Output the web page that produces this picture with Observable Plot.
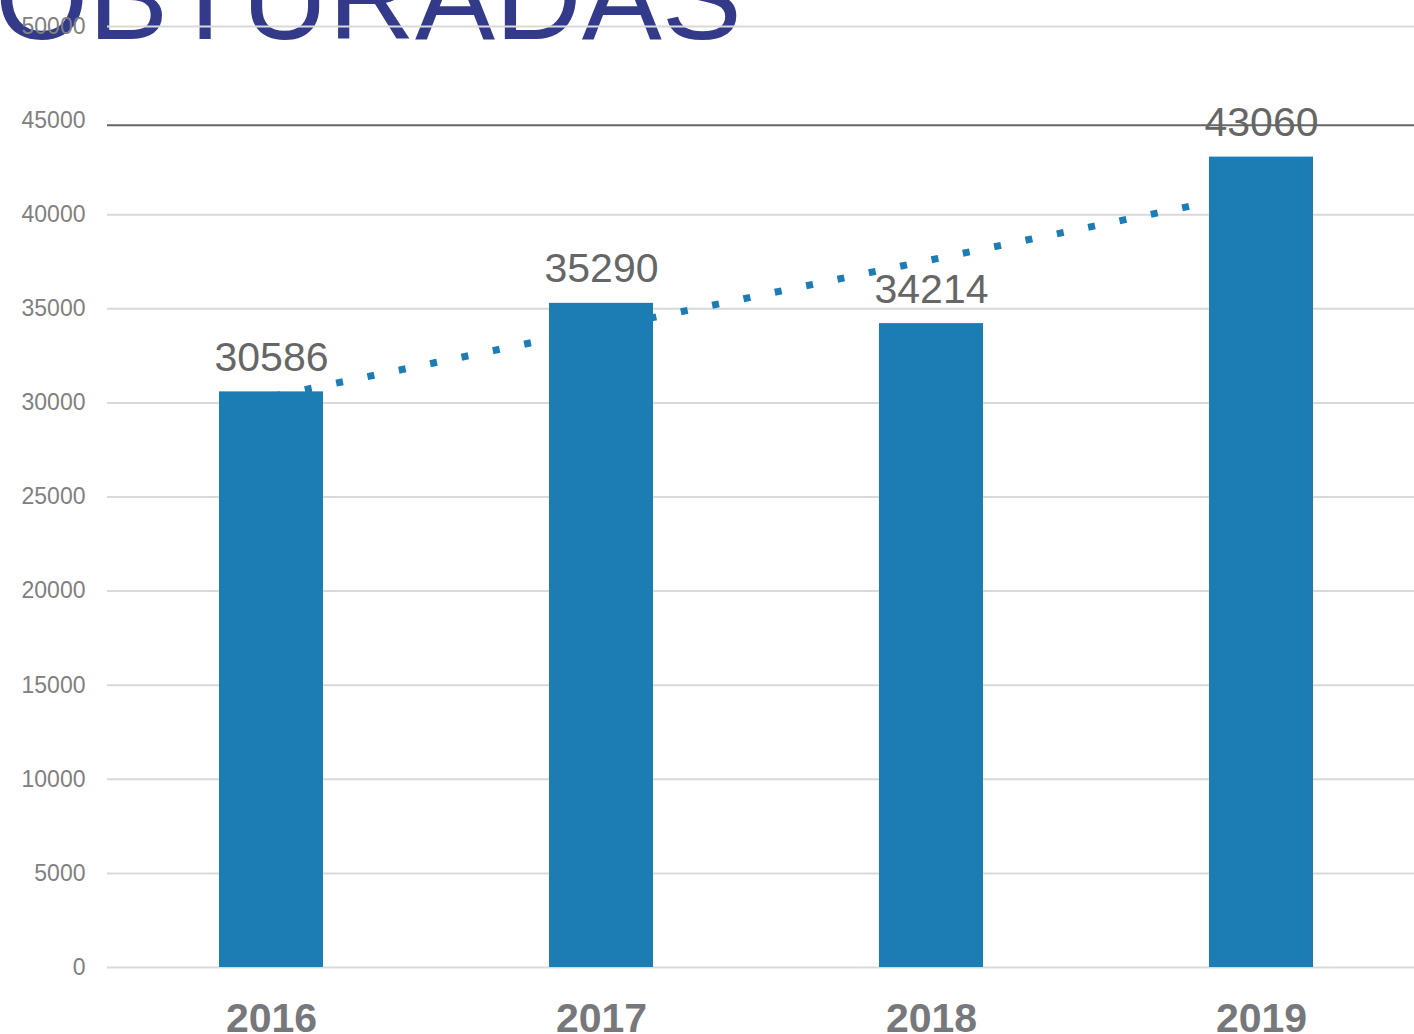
<!DOCTYPE html>
<html><head><meta charset="utf-8">
<script src="https://cdn.jsdelivr.net/npm/d3@7"></script>
<script src="https://cdn.jsdelivr.net/npm/@observablehq/plot@0.6"></script>
<style>
html,body{margin:0;padding:0;background:#fff;overflow:hidden}
#wrap{position:relative;width:1414px;height:1034px;font-family:"Liberation Sans",Arial,sans-serif;overflow:hidden}
#title{position:absolute;left:-5px;top:-63px;font-size:120px;line-height:1;color:#343A8A;z-index:0;white-space:nowrap}
#chart{position:absolute;left:0;top:0;z-index:1}
</style></head>
<body>
<div id="wrap"><div id="title">OBTURADAS</div><div id="chart"></div></div>
<script>
const years = ["2016", "2017", "2018", "2019"];
const values = [30586, 35290, 34214, 43060];
const yTicks = [0, 5000, 10000, 15000, 20000, 25000, 30000, 35000, 40000, 45000, 50000];
const gridTicks = [0, 5000, 10000, 15000, 20000, 25000, 30000, 35000, 40000, 50000];
const divider = [44750];
const barColor = "#1B7DB4";

const data = years.map((year, i) => ({year, value: values[i]}));

// linear trend (least squares) over the category index
const n = values.length;
const mx = (n - 1) / 2;
const my = d3.mean(values);
const slope = d3.sum(values, (v, i) => (i - mx) * (v - my)) / d3.sum(values, (v, i) => (i - mx) ** 2);
const intercept = my - slope * mx;
const trend = [
  {year: years[0], value: intercept},
  {year: years[n - 1], value: intercept + slope * (n - 1)}
];

const chart = Plot.plot({
  width: 1414, height: 1034,
  marginTop: 26, marginBottom: 67, marginLeft: 107, marginRight: 0,
  style: {background: "transparent", fontFamily: "Liberation Sans, Arial, sans-serif", overflow: "visible"},
  x: {domain: years, range: [106, 1426], paddingInner: 0.685, paddingOuter: 0.3425, label: null},
  y: {domain: [0, 50000], label: null},
  marks: [
    Plot.gridY(gridTicks, {stroke: "#d9d9d9", strokeOpacity: 1, strokeWidth: 2}),
    Plot.axisY(yTicks, {tickSize: 0, tickPadding: 22, fontSize: 23, color: "#808080", label: null, tickFormat: d => String(d)}),
    Plot.ruleY(divider, {stroke: "#666666", strokeWidth: 2}),
    Plot.line(trend, {x: "year", y: "value", stroke: barColor, strokeWidth: 7, strokeLinecap: "butt", strokeDasharray: "7 25", strokeDashoffset: -2}),
    Plot.barY(data, {x: "year", y: "value", fill: barColor}),
    Plot.text(data, {x: "year", y: "value", text: d => String(d.value), lineAnchor: "bottom", dy: -21, fontSize: 41, fill: "#666666"}),
    Plot.axisX({tickSize: 0, tickPadding: 35, fontSize: 41, fontWeight: "bold", color: "#77787B", label: null})
  ]
});
document.getElementById("chart").appendChild(chart);
</script>
</body></html>
